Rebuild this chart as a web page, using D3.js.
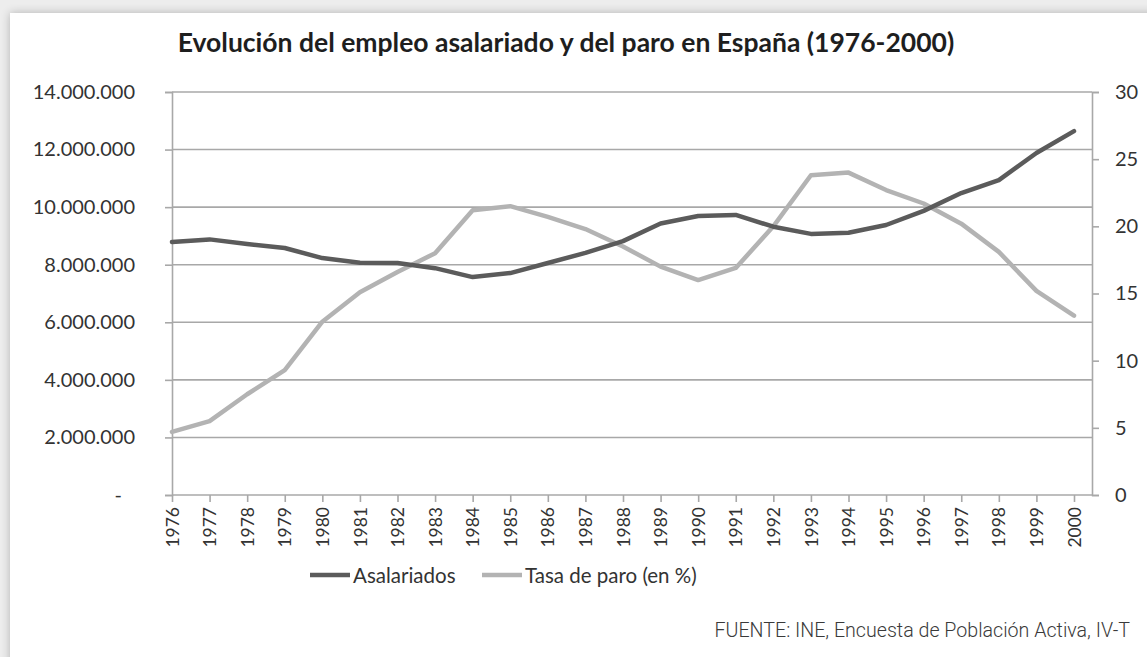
<!DOCTYPE html>
<html>
<head>
<meta charset="utf-8">
<script src="https://cdn.jsdelivr.net/npm/d3@7"></script>
<style>
  html, body { margin: 0; padding: 0; background: #ededed; overflow: hidden; }
  svg { display: block; }
</style>
</head>
<body>
<script>
// data
const years = d3.range(1976, 2001)
const asalariados = [8790000, 8880000, 8720000, 8580000, 8230000, 8070000, 8060000, 7880000, 7570000, 7710000,
  8060000, 8410000, 8820000, 9430000, 9690000, 9730000, 9320000, 9070000, 9110000, 9380000,
  9870000, 10490000, 10940000, 11880000, 12640000]
const tasaParo = [4.7, 5.5, 7.5, 9.3, 12.9, 15.1, 16.6, 18.0, 21.2, 21.5,
  20.7, 19.8, 18.5, 17.0, 16.0, 16.9, 20.0, 23.8, 24.0, 22.7,
  21.7, 20.2, 18.1, 15.2, 13.35]
const leftTicks = [0, 2000000, 4000000, 6000000, 8000000, 10000000, 12000000, 14000000]
const rightTicks = [0, 5, 10, 15, 20, 25, 30]
const seriesNames = ["Asalariados", "Tasa de paro (en %)"]
const title = "Evolución del empleo asalariado y del paro en España (1976-2000)"
const source = "FUENTE: INE, Encuesta de Población Activa, IV-T"

const W = 1147, H = 657
const plot = {left: 172, right: 1092, top: 92, bottom: 495}
const darkColor = "#5b5b5b", lightColor = "#b3b3b3", gridColor = "#a8a8a8"
const font = "Lato, 'Open Sans', sans-serif"

const svg = d3.select("body").append("svg").attr("width", W).attr("height", H)

// card with soft shadow
const defs = svg.append("defs")
const shadow = defs.append("filter").attr("id", "shadow").attr("x", "-5%").attr("y", "-5%").attr("width", "110%").attr("height", "110%")
shadow.append("feGaussianBlur").attr("in", "SourceAlpha").attr("stdDeviation", 5)
shadow.append("feComponentTransfer").append("feFuncA").attr("type", "linear").attr("slope", 0.25)
const merge = shadow.append("feMerge")
merge.append("feMergeNode")
merge.append("feMergeNode").attr("in", "SourceGraphic")

svg.append("rect").attr("x", 10).attr("y", 13).attr("width", W + 40).attr("height", H + 40)
  .attr("fill", "#ffffff").attr("filter", "url(#shadow)")

// scales
const x = d3.scaleLinear().domain([1976, 2000]).range([plot.left, 1074])
const yL = d3.scaleLinear().domain([0, 14000000]).range([plot.bottom, plot.top])
const yR = d3.scaleLinear().domain([0, 30]).range([plot.bottom, plot.top])

// fit a text element to a target width
function fit(sel, width) {
  const size = parseFloat(sel.attr("font-size"))
  const len = sel.node().getComputedTextLength()
  sel.attr("font-size", size * width / len)
}

// title
const t = svg.append("text").attr("x", 566).attr("y", 52).attr("text-anchor", "middle")
  .attr("font-family", font).attr("font-weight", 700).attr("font-size", 22)
  .attr("fill", "#1e1e1e").text(title)
fit(t, 777)

// gridlines
svg.append("g").selectAll("line").data(leftTicks.slice(1)).join("line")
  .attr("x1", plot.left).attr("x2", plot.right)
  .attr("y1", d => yL(d)).attr("y2", d => yL(d))
  .attr("stroke", gridColor).attr("stroke-width", 1.6)

// left axis
const leftAxis = svg.append("g").attr("transform", `translate(${plot.left},0)`)
  .call(d3.axisLeft(yL).tickValues(leftTicks).tickSize(7).tickPadding(30)
    .tickFormat(d => d === 0 ? "-" : d3.format(",")(d).replace(/,/g, ".")))
leftAxis.select(".domain").attr("stroke", gridColor).attr("stroke-width", 1.6)
leftAxis.selectAll(".tick line").attr("stroke", gridColor).attr("stroke-width", 1.6)
leftAxis.selectAll(".tick text").attr("font-family", font).attr("font-size", 20).attr("fill", "#333")
  .attr("x", -37)
leftAxis.selectAll(".tick text").filter(d => d === 0).attr("x", -50)

// right axis
const rightAxis = svg.append("g").attr("transform", `translate(${plot.right},0)`)
  .call(d3.axisRight(yR).tickValues(rightTicks).tickSize(7).tickPadding(16))
rightAxis.select(".domain").attr("stroke", gridColor).attr("stroke-width", 1.6)
rightAxis.selectAll(".tick line").attr("stroke", gridColor).attr("stroke-width", 1.6)
rightAxis.selectAll(".tick text").attr("font-family", font).attr("font-size", 20).attr("fill", "#333")

// bottom axis
const bottomAxis = svg.append("g").attr("transform", `translate(0,${plot.bottom})`)
  .call(d3.axisBottom(x).tickValues(years).tickSize(7).tickFormat(d3.format("d")))
bottomAxis.select(".domain").remove()
svg.append("line").attr("x1", plot.left).attr("x2", plot.right)
  .attr("y1", plot.bottom).attr("y2", plot.bottom)
  .attr("stroke", gridColor).attr("stroke-width", 1.6)
bottomAxis.selectAll(".tick line").attr("stroke", gridColor).attr("stroke-width", 1.6)
bottomAxis.selectAll(".tick text").attr("font-family", font).attr("font-size", 17.5).attr("fill", "#333")
  .attr("transform", "rotate(-90)").attr("text-anchor", "end")
  .attr("x", -12).attr("y", 0).attr("dy", "0.35em")

// lines
const lineL = d3.line().x((d, i) => x(years[i])).y(d => yL(d))
const lineR = d3.line().x((d, i) => x(years[i])).y(d => yR(d))

svg.append("path").datum(tasaParo).attr("d", lineR)
  .attr("fill", "none").attr("stroke", lightColor).attr("stroke-width", 4.5)
  .attr("stroke-linejoin", "round").attr("stroke-linecap", "round")
svg.append("path").datum(asalariados).attr("d", lineL)
  .attr("fill", "none").attr("stroke", darkColor).attr("stroke-width", 4.5)
  .attr("stroke-linejoin", "round").attr("stroke-linecap", "round")

// legend
const legend = svg.append("g")
const legendItems = [
  {name: seriesNames[0], color: darkColor, x: 310},
  {name: seriesNames[1], color: lightColor, x: 482}
]
legendItems.forEach(item => {
  legend.append("line").attr("x1", item.x).attr("x2", item.x + 40)
    .attr("y1", 575).attr("y2", 575)
    .attr("stroke", item.color).attr("stroke-width", 4.5)
  legend.append("text").attr("x", item.x + 43).attr("y", 576).attr("dy", "0.35em")
    .attr("font-family", font).attr("font-size", 20.5).attr("fill", "#333").text(item.name)
})

// source note
const s = svg.append("text").attr("x", 1130).attr("y", 637).attr("text-anchor", "end")
  .attr("font-family", "Roboto, sans-serif").attr("font-weight", 300).attr("font-size", 18)
  .attr("fill", "#3a3a3a").text(source)
fit(s, 416)
</script>
</body>
</html>
